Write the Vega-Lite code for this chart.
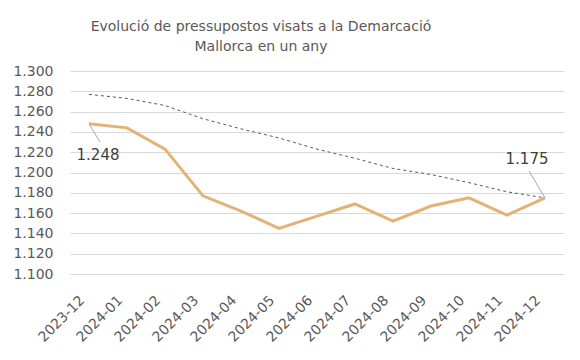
{
  "$schema": "https://vega.github.io/schema/vega-lite/v6.json",
  "width": 494,
  "height": 203,
  "autosize": {"type": "none"},
  "padding": {"left": 70, "top": 71, "right": 16, "bottom": 86},
  "background": "white",
  "config": {
    "locale": {"number": {"decimal": ",", "thousands": ".", "grouping": [3], "currency": ["", " €"]}},
    "view": {"stroke": null},
    "font": "DejaVu Sans",
    "axisY": {"labelOverlap": false}
  },
  "title": {
    "text": ["Evolució de pressupostos visats a la Demarcació", "Mallorca en un any"],
    "fontSize": 14,
    "fontWeight": "normal",
    "color": "#595959",
    "font": "DejaVu Sans",
    "lineHeight": 20,
    "anchor": "middle",
    "dx": -56,
    "offset": 10
  },
  "data": {
    "values": [
      {"mes": "2023-12", "valor": 1248, "tendencia": 1277},
      {"mes": "2024-01", "valor": 1244, "tendencia": 1273},
      {"mes": "2024-02", "valor": 1223, "tendencia": 1266},
      {"mes": "2024-03", "valor": 1177, "tendencia": 1253},
      {"mes": "2024-04", "valor": 1162, "tendencia": 1243},
      {"mes": "2024-05", "valor": 1145, "tendencia": 1234},
      {"mes": "2024-06", "valor": 1157, "tendencia": 1223},
      {"mes": "2024-07", "valor": 1169, "tendencia": 1214},
      {"mes": "2024-08", "valor": 1152, "tendencia": 1204},
      {"mes": "2024-09", "valor": 1167, "tendencia": 1198},
      {"mes": "2024-10", "valor": 1175, "tendencia": 1190},
      {"mes": "2024-11", "valor": 1158, "tendencia": 1181},
      {"mes": "2024-12", "valor": 1175, "tendencia": 1175}
    ]
  },
  "encoding": {
    "x": {
      "field": "mes",
      "type": "ordinal",
      "sort": null,
      "scale": {"type": "point", "padding": 0.5},
      "axis": {
        "title": null,
        "labelAngle": -45,
        "labelFontSize": 14,
        "labelColor": "#595959",
        "labelPadding": 19,
        "labelOffset": -12,
        "labelOverlap": false,
        "domain": false,
        "ticks": false,
        "grid": false
      }
    },
    "y": {
      "field": "valor",
      "type": "quantitative",
      "scale": {"domain": [1100, 1300], "nice": false, "zero": false},
      "axis": {
        "title": null,
        "values": [1100, 1120, 1140, 1160, 1180, 1200, 1220, 1240, 1260, 1280, 1300],
        "format": ",d",
        "labelFontSize": 14,
        "labelColor": "#595959",
        "labelPadding": 17,
        "labelOverlap": false,
        "domain": false,
        "ticks": false,
        "gridColor": "#d9d9d9",
        "gridWidth": 1
      }
    }
  },
  "layer": [
    {
      "mark": {"type": "line", "color": "#595959", "strokeWidth": 1, "strokeDash": [3, 3]},
      "encoding": {"y": {"field": "tendencia", "type": "quantitative"}}
    },
    {
      "mark": {"type": "line", "color": "#E3B275", "strokeWidth": 3, "strokeJoin": "miter"},
      "encoding": {}
    },
    {
      "transform": [{"filter": "datum.mes == '2023-12'"}],
      "mark": {"type": "rule", "color": "#a6a6a6", "strokeWidth": 1, "x2Offset": 11},
      "encoding": {
        "y2": {"datum": 1230},
        "x2": {"field": "mes"}
      }
    },
    {
      "transform": [{"filter": "datum.mes == '2024-12'"}],
      "mark": {"type": "rule", "color": "#a6a6a6", "strokeWidth": 1, "x2Offset": -16},
      "encoding": {
        "y2": {"datum": 1201.5},
        "x2": {"field": "mes"}
      }
    },
    {
      "transform": [{"filter": "datum.mes == '2023-12'"}],
      "mark": {"type": "text", "fontSize": 15, "color": "#404040", "dx": 9, "dy": 31, "align": "center", "baseline": "middle"},
      "encoding": {
        "text": {"field": "valor", "type": "quantitative", "format": ",d"}
      }
    },
    {
      "transform": [{"filter": "datum.mes == '2024-12'"}],
      "mark": {"type": "text", "fontSize": 15, "color": "#404040", "dx": -18, "dy": -39, "align": "center", "baseline": "middle"},
      "encoding": {
        "text": {"field": "valor", "type": "quantitative", "format": ",d"}
      }
    }
  ]
}
